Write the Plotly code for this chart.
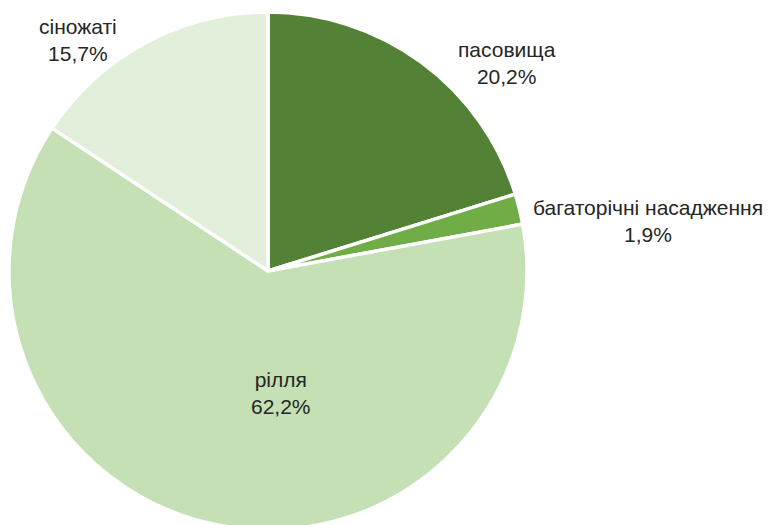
import plotly.graph_objects as go

# Data
categories = ["пасовища", "багаторічні насадження", "рілля", "сіножаті"]
values = [20.2, 1.9, 62.2, 15.7]
value_labels = ["20,2%", "1,9%", "62,2%", "15,7%"]
colors = ["#538135", "#70AD47", "#C5E0B4", "#E2EFDA"]

# Label centre positions in pixels (x from left, y from top)
label_px = [(507, 63), (648, 221), (281, 393), (78, 40)]

W, H = 771, 533  # slightly taller than the view so the pie can be cut at the bottom

cx, cy, r = 268, 271, 259  # pie centre / radius in pixels

fig = go.Figure(go.Pie(
    labels=categories,
    values=values,
    sort=False,
    direction="clockwise",
    rotation=0,
    marker=dict(colors=colors, line=dict(color="white", width=3.5)),
    textinfo="none",
    hoverinfo="label+percent",
    showlegend=False,
    domain=dict(x=[(cx - r) / W, (cx + r) / W],
                y=[1 - (cy + r) / H, 1 - (cy - r) / H]),
))

for cat, vl, (px, py) in zip(categories, value_labels, label_px):
    fig.add_annotation(
        x=px / W, y=1 - py / H, xref="paper", yref="paper",
        text=f"{cat}<br>{vl}", showarrow=False,
        xanchor="center", yanchor="middle", align="center",
        font=dict(family="Liberation Sans, Arial, sans-serif", size=21, color="#262626"),
    )

fig.update_layout(
    width=W, height=H,
    margin=dict(l=0, r=0, t=0, b=0),
    paper_bgcolor="white", plot_bgcolor="white",
)

fig.write_html(
    "out.html",
    config={"displayModeBar": False},
    post_script="document.body.style.margin='0';document.body.style.overflow='hidden';",
)
